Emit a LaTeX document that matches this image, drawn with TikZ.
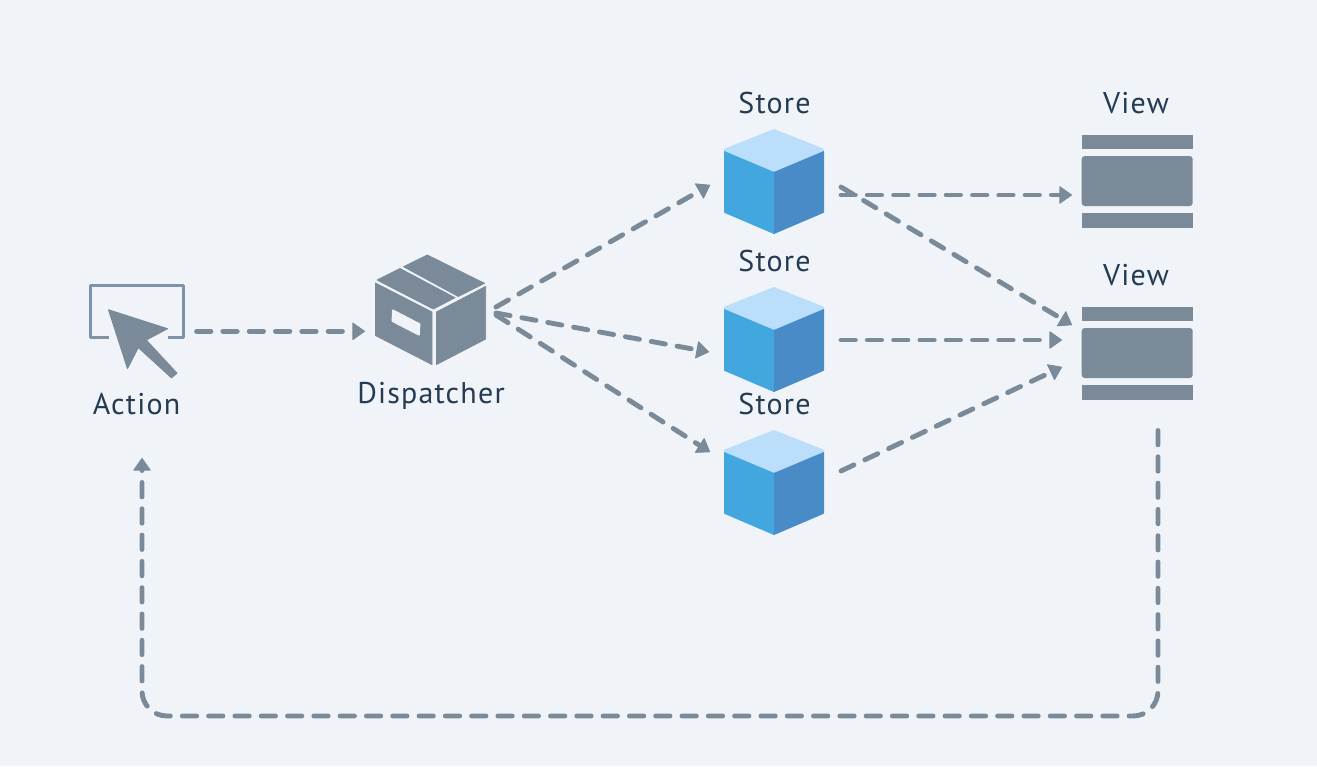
\documentclass[tikz,border=0pt]{standalone}
\usepackage{fontspec}
\setmainfont[LetterSpace=4]{PT Sans}
\usetikzlibrary{arrows.meta,shapes.geometric}
\definecolor{bgc}{HTML}{F0F4F8}
\definecolor{icon}{HTML}{7B8A99}
\definecolor{rectc}{HTML}{7F92A6}
\definecolor{txt}{HTML}{243B53}
\definecolor{cubetop}{HTML}{BBDEFB}
\definecolor{cubeleft}{HTML}{42A6DF}
\definecolor{cuberight}{HTML}{488BC7}
\tikzset{
  x=1pt,y=-1pt,
  flow/.style={draw=icon,line width=4.9pt,line cap=round,dash pattern=on 14.3pt off 12pt,
    -{Triangle[length=13pt,width=18pt,round,line width=1pt,fill=icon]}},
  lbl/.style={text=txt,font=\fontsize{30}{30}\selectfont,inner sep=0pt,anchor=base},
  iconfill/.style={fill=icon,draw=icon,line width=.8pt,line join=round},
}
\newcommand{\cube}[1]{%
  \begin{scope}[shift={(#1)}]
    \fill[cubeleft,draw=cubeleft,line width=2pt,line join=round] (-49,22.5) -- (-1,42.5) -- (-1,103.5) -- (-49,83) -- cycle;
    \fill[cuberight,draw=cuberight,line width=2pt,line join=round] (49,22.5) -- (1,42.5) -- (1,103.5) -- (49,83) -- cycle;
    \fill[cubeleft] (-1,42.5) rectangle (0,104.5);
    \fill[cuberight] (0,42.5) rectangle (1,104.5);
    \fill[cubetop,draw=cubetop,line width=2.6pt,line join=round] (0,1.4) -- (49,20.8) -- (0,41.4) -- (-49,20.8) -- cycle;
  \end{scope}}
\newcommand{\viewicon}[1]{%
  \begin{scope}[shift={(#1)}]
    \fill[icon] (-55.5,0) rectangle (55.5,14.3);
    \fill[icon,rounded corners=3pt] (-55.5,21.3) rectangle (55.5,71.3);
    \fill[icon] (-55.5,78.6) rectangle (55.5,93);
  \end{scope}}
\begin{document}
\begin{tikzpicture}
\useasboundingbox (0,0) rectangle (1317,766);
\fill[bgc] (0,0) rectangle (1317,766);

% icon anchors
\node[inner sep=0pt,minimum size=0pt] (action) at (137,331) {};
\node[inner sep=0pt,minimum size=0pt] (disp) at (430,310) {};
\node[inner sep=0pt,minimum size=0pt] (s1) at (774,181) {};
\node[inner sep=0pt,minimum size=0pt] (s2) at (774,339) {};
\node[inner sep=0pt,minimum size=0pt] (s3) at (774,482) {};
\node[inner sep=0pt,minimum size=0pt] (v1) at (1137,181) {};
\node[inner sep=0pt,minimum size=0pt] (v2) at (1137,353) {};

% Action icon
\draw[rectc,line width=2.9pt,line join=round]
  (108.7,337.7) -- (90.6,337.7) -- (90.6,285.4) -- (183.7,285.4) -- (183.7,337.7) -- (168,337.7);
\fill[icon,draw=icon,line width=1pt,line join=round]
  (108.5,309.8) -- (167.5,328.7) -- (146.2,340) -- (177,373.2) -- (171.4,377.8) -- (138.3,347.5) -- (127.5,368.5) -- cycle;

% Dispatcher icon
\fill[iconfill] (427.3,255) -- (484.5,283.3) -- (458.3,296.5) -- (403.5,266.7) -- cycle;
\fill[iconfill] (400,268.5) -- (455,297.7) -- (433.3,309) -- (377,280) -- cycle;
\fill[iconfill] (375.4,283) -- (432,312) -- (432,364.6) -- (375.4,335.5) -- cycle;
\fill[iconfill] (436.4,312) -- (485.7,286.4) -- (485.7,339) -- (436.4,364.6) -- cycle;
\fill[bgc,draw=bgc,line width=2pt,line join=round] (393,310.5) -- (419.4,324.2) -- (418.9,334.6) -- (392.6,321) -- cycle;

% Stores
\cube{774,129}
\cube{774,287}
\cube{774,430}

% Views
\viewicon{1137.2,134.7}
\viewicon{1137.2,306.7}

% Labels
\node[lbl] (lact) at (136.5,414.3) {Action};
\node[lbl] (ldisp) at (431,403.8) {Dispatcher};
\node[lbl] (ls1) at (774.5,113.3) {Store};
\node[lbl] (ls2) at (774.5,271.3) {Store};
\node[lbl] (ls3) at (774.5,414.3) {Store};
\node[lbl] (lv1) at (1136,113.3) {View};
\node[lbl] (lv2) at (1136,285.3) {View};

% Connectors
\draw[flow] ([shift={(59.6,0.3)}]action.center) -- ([shift={(-65,21.3)}]disp.center);
\draw[flow] ([shift={(66,-3)}]disp.center) -- ([shift={(-64,4)}]s1.center);
\draw[flow] ([shift={(66,3)}]disp.center) -- ([shift={(-65,13)}]s2.center);
\draw[flow] ([shift={(66,5)}]disp.center) -- ([shift={(-64,-30)}]s3.center);
\draw[flow] ([shift={(67,14)}]s1.center) -- ([shift={(-65,14)}]v1.center);
\draw[flow] ([shift={(67,6)}]s1.center) -- ([shift={(-65,-28)}]v2.center);
\draw[flow] ([shift={(67,1)}]s2.center) -- ([shift={(-75,-13)}]v2.center);
\draw[flow] ([shift={(67,-11)}]s3.center) -- ([shift={(-75,14)}]v2.center);
\draw[flow,rounded corners=25pt] ([shift={(21,77.5)}]v2.center) -- (1158,716) -- (142,716) -- ([shift={(5,127)}]action.center);
\end{tikzpicture}
\end{document}
